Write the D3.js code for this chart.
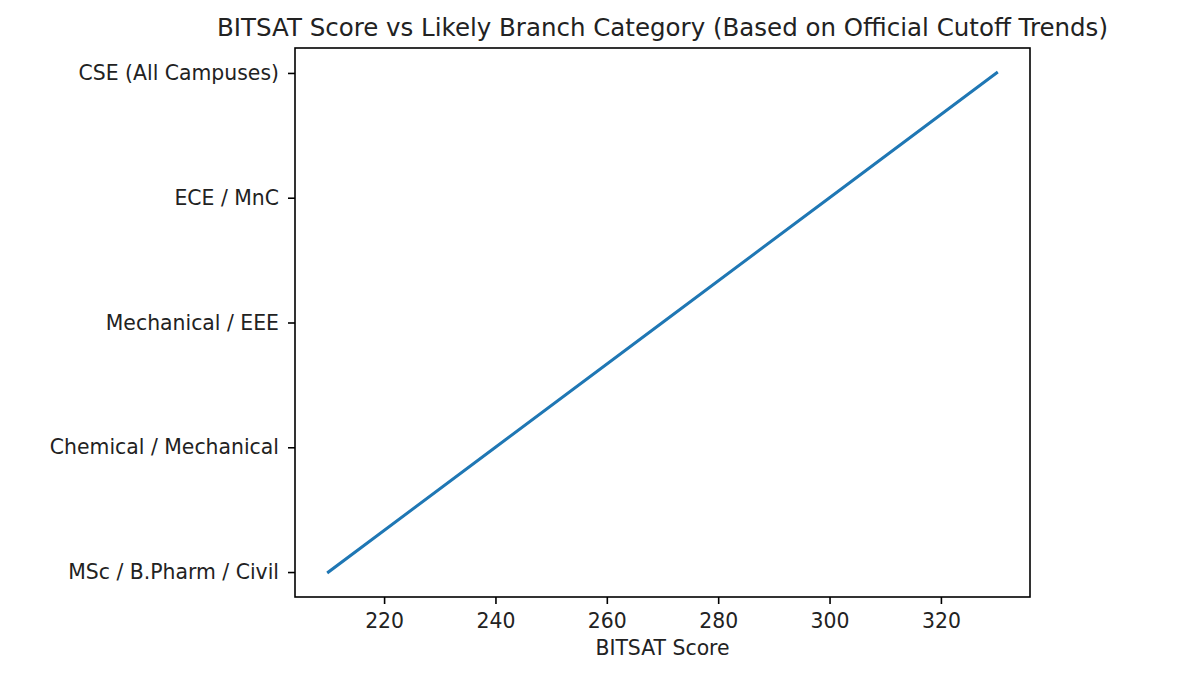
<!DOCTYPE html>
<html>
<head>
<meta charset="utf-8">
<script src="https://cdn.jsdelivr.net/npm/d3@7"></script>
<style>
  body { margin: 0; background: #fff; }
  text { font-family: "DejaVu Sans", sans-serif; fill: #222; }
</style>
</head>
<body>
<svg id="chart" width="1200" height="675"></svg>
<script>
// data
const categories = ["MSc / B.Pharm / Civil", "Chemical / Mechanical", "Mechanical / EEE", "ECE / MnC", "CSE (All Campuses)"];
const scores = [210, 240, 270, 300, 330];
const xTicks = [220, 240, 260, 280, 300, 320];

const svg = d3.select("#chart");
const plotL = 295, plotR = 1030, plotT = 48, plotB = 597;
const tickFont = "20.4px";

// matplotlib style 5% margins
const x = d3.scaleLinear().domain([204, 336]).range([plotL, plotR]);
const yIdx = d3.scaleLinear().domain([-0.2, 4.2]).range([plotB, plotT]);

const line = d3.line()
    .x(d => x(d.score))
    .y(d => yIdx(d.idx));

const pts = scores.map((s, i) => ({ score: s, idx: i }));

svg.append("path")
    .datum(pts)
    .attr("d", line)
    .attr("fill", "none")
    .attr("stroke", "#1f77b4")
    .attr("stroke-width", 3)
    .attr("stroke-linecap", "square");

// x axis
const xAxis = d3.axisBottom(x).tickValues(xTicks).tickSize(7).tickPadding(10);
const gx = svg.append("g").attr("transform", `translate(0,${plotB})`).call(xAxis);
gx.select(".domain").remove();
gx.selectAll("line").attr("stroke", "#000").attr("stroke-width", 1.6);
gx.selectAll("text").style("font-size", tickFont).style("font-family", "DejaVu Sans").attr("fill", "#222");

// y axis with category labels
const yAxis = d3.axisLeft(yIdx).tickValues(d3.range(categories.length))
    .tickFormat(i => categories[i]).tickSize(7).tickPadding(9);
const gy = svg.append("g").attr("transform", `translate(${plotL},0)`).call(yAxis);
gy.select(".domain").remove();
gy.selectAll("line").attr("stroke", "#000").attr("stroke-width", 1.6);
gy.selectAll("text").style("font-size", tickFont).style("font-family", "DejaVu Sans").attr("fill", "#222");

// frame
svg.append("rect")
    .attr("x", plotL).attr("y", plotT)
    .attr("width", plotR - plotL).attr("height", plotB - plotT)
    .attr("fill", "none").attr("stroke", "#000").attr("stroke-width", 1.6);

svg.append("text")
    .attr("x", (plotL + plotR) / 2).attr("y", 655)
    .attr("text-anchor", "middle")
    .style("font-size", tickFont)
    .text("BITSAT Score");

svg.append("text")
    .attr("x", (plotL + plotR) / 2).attr("y", 36)
    .attr("text-anchor", "middle")
    .style("font-size", "24.5px")
    .text("BITSAT Score vs Likely Branch Category (Based on Official Cutoff Trends)");
</script>
</body>
</html>
